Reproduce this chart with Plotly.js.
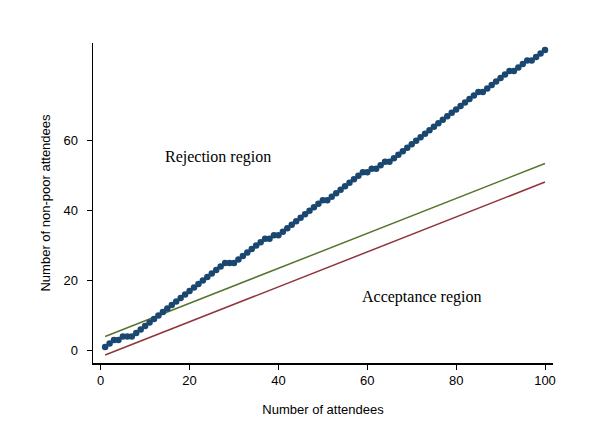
<!DOCTYPE html>
<html>
<head>
<meta charset="utf-8">
<script src="https://cdn.plot.ly/plotly-3.0.1.min.js"></script>
<style>
  body { margin: 0; background: #fff; }
  #chart { width: 600px; height: 426px; }
</style>
</head>
<body>
<div id="chart"></div>
<script>
// cumulative count of non-poor attendees after each attendee
const attendees = [];
for (let i = 1; i <= 100; i++) attendees.push(i);
const nonPoor = [
    1, 2, 3, 3, 4, 4, 4, 5, 6, 7,
    8, 9, 10, 11, 12, 13, 14, 15, 16, 17,
    18, 19, 20, 21, 22, 23, 24, 25, 25, 25,
    26, 27, 28, 29, 30, 31, 32, 32, 33, 33,
    34, 35, 36, 37, 38, 39, 40, 41, 42, 43,
    43, 44, 45, 46, 47, 48, 49, 50, 51, 51,
    52, 52, 53, 54, 54, 55, 56, 57, 58, 59,
    60, 61, 62, 63, 64, 65, 66, 67, 68, 69,
    70, 71, 72, 73, 74, 74, 75, 76, 77, 78,
    79, 80, 80, 81, 82, 83, 83, 84, 85, 86
];

// boundary lines (end points)
const lineX = [1, 100];
const rejectLine = [4.0, 53.5];
const acceptLine = [-1.3, 48.2];

const yTicks = [0, 20, 40, 60];
const xTicks = [0, 20, 40, 60, 80, 100];

var trace1 = {
    x: lineX,
    y: rejectLine,
    type: 'scatter',
    mode: 'lines',
    line: { color: '#55752f', width: 1.5 },
    hoverinfo: 'none'
};

var trace2 = {
    x: lineX,
    y: acceptLine,
    type: 'scatter',
    mode: 'lines',
    line: { color: '#90353b', width: 1.5 },
    hoverinfo: 'none'
};

var trace3 = {
    x: attendees,
    y: nonPoor,
    type: 'scatter',
    mode: 'markers',
    marker: { color: '#1a476f', size: 6.5 },
    hoverinfo: 'none'
};

var data = [trace1, trace2, trace3];

var sans = 'Liberation Sans, Arial, sans-serif';
var serif = 'Liberation Serif, Times New Roman, serif';

var layout = {
    width: 600,
    height: 426,
    showlegend: false,
    paper_bgcolor: '#ffffff',
    plot_bgcolor: '#ffffff',
    margin: { l: 93, r: 47, t: 43, b: 63 },
    font: { family: sans, size: 13, color: '#000000' },
    xaxis: {
        range: [-1.73, 101.8],
        tickvals: xTicks,
        ticks: 'outside',
        ticklen: 5,
        tickcolor: '#000000',
        tickfont: { family: sans, size: 13 },
        showgrid: false,
        zeroline: false,
        showline: true,
        linecolor: '#000000',
        linewidth: 1.5,
        automargin: false,
        title: { text: 'Number of attendees', standoff: 18, font: { family: sans, size: 13 } }
    },
    yaxis: {
        range: [-3.6, 88],
        tickvals: yTicks,
        ticks: 'outside',
        ticklen: 5,
        tickcolor: '#000000',
        tickfont: { family: sans, size: 13 },
        ticklabelstandoff: 6,
        showgrid: false,
        zeroline: false,
        showline: true,
        linecolor: '#000000',
        linewidth: 1.5,
        automargin: false,
        title: { text: 'Number of non-poor attendees', standoff: 10, font: { family: sans, size: 13 } }
    },
    annotations: [
        {
            x: 26.3, y: 55.4, xref: 'x', yref: 'y',
            text: 'Rejection region', showarrow: false,
            font: { family: serif, size: 16 }
        },
        {
            x: 72.2, y: 15.3, xref: 'x', yref: 'y',
            text: 'Acceptance region', showarrow: false,
            font: { family: serif, size: 16 }
        }
    ]
};

Plotly.newPlot('chart', data, layout, { staticPlot: true });
</script>
</body>
</html>
